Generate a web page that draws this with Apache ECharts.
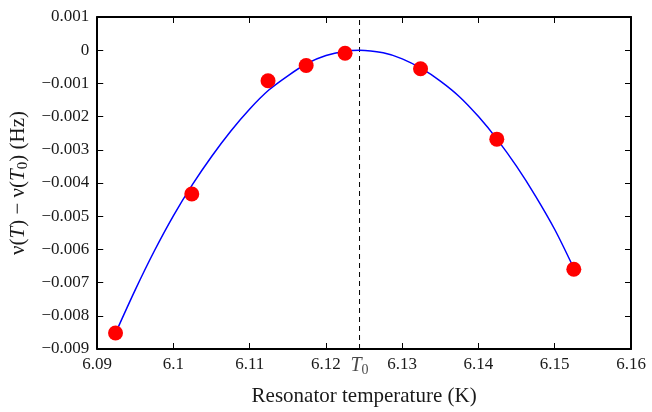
<!DOCTYPE html>
<html>
<head>
<meta charset="utf-8">
<script src="https://cdn.jsdelivr.net/npm/echarts@6/dist/echarts.min.js"></script>
<style>html,body{margin:0;padding:0;background:#fff}#c{width:652px;height:412px}</style>
</head>
<body>
<div id="c"></div>
<script>
// Measured data points: temperature (K) and frequency shift (Hz)
const pointT = [6.0924, 6.1024, 6.1124, 6.1174, 6.1225, 6.1324, 6.1424, 6.1525];
const pointDv = [-0.00852, -0.00433, -0.00092, -0.00046, -0.00009, -0.00056, -0.00268, -0.00660];
// Fitted curve
const curveT = [6.0924, 6.095, 6.0975, 6.10, 6.1025, 6.105, 6.1075, 6.11, 6.1125, 6.115, 6.1175, 6.12, 6.1225, 6.1244, 6.1275, 6.13, 6.1325, 6.135, 6.1375, 6.14, 6.1425, 6.145, 6.1475, 6.15, 6.1524];
const curveDv = [-0.00852, -0.00721, -0.00604, -0.00498, -0.00404, -0.00320, -0.00244, -0.00177, -0.00120, -0.00077, -0.00040, -0.00016, -0.00003, 0, -0.00008, -0.00026, -0.00055, -0.00093, -0.00140, -0.00200, -0.00270, -0.00350, -0.00440, -0.00540, -0.00652];
const T0 = 6.1244;
const xTicks = [6.09, 6.16, 0.01];
const yTicks = [-0.009, 0.001, 0.001];

const FONT = 'Liberation Serif';
const TXT = '#1a1a1a';
const fmtNum = v => { const r = parseFloat(v.toFixed(4)); return String(r).replace('-', '\u2212'); };

const chart = echarts.init(document.getElementById('c'), null, {renderer: 'canvas'});
const axisLine = {show: true, onZero: false, lineStyle: {color: '#000', width: 2}};
const tickStyle = {show: true, inside: true, length: 6, lineStyle: {color: '#000', width: 1}};
chart.setOption({
  animation: false,
  backgroundColor: '#fff',
  grid: {left: 96, top: 17, right: 21, bottom: 61, containLabel: false},
  xAxis: [{
    type: 'value', min: xTicks[0], max: xTicks[1], interval: xTicks[2],
    axisLine: axisLine, axisTick: tickStyle, splitLine: {show: false},
    axisLabel: {color: TXT, fontFamily: FONT, fontSize: 17, margin: 7, formatter: fmtNum},
    name: 'Resonator temperature (K)', nameLocation: 'middle', nameGap: 37,
    nameTextStyle: {color: TXT, fontFamily: FONT, fontSize: 21}
  }, {
    type: 'value', position: 'top', min: xTicks[0], max: xTicks[1], interval: xTicks[2],
    axisLine: axisLine, axisTick: tickStyle, splitLine: {show: false}, axisLabel: {show: false}
  }],
  yAxis: [{
    type: 'value', min: yTicks[0], max: yTicks[1], interval: yTicks[2],
    axisLine: axisLine, axisTick: tickStyle, splitLine: {show: false},
    axisLabel: {color: TXT, fontFamily: FONT, fontSize: 17, margin: 8, formatter: fmtNum},
    name: '{n|\u03bd(}{i|T}{n|) \u2212 \u03bd(}{i|T}{s|0}{n|) (Hz)}', nameLocation: 'middle', nameGap: 64,
    nameTextStyle: {color: TXT, fontFamily: FONT, fontSize: 21,
      rich: {
        n: {fontFamily: FONT, fontSize: 21, color: TXT},
        i: {fontFamily: FONT, fontSize: 21, fontStyle: 'italic', color: TXT},
        s: {fontFamily: FONT, fontSize: 15, color: TXT, padding: [9, 0, 0, 0]}
      }}
  }, {
    type: 'value', position: 'right', min: yTicks[0], max: yTicks[1], interval: yTicks[2],
    axisLine: axisLine, axisTick: tickStyle, splitLine: {show: false}, axisLabel: {show: false}
  }],
  series: [{
    type: 'line', data: curveT.map((t, i) => [t, curveDv[i]]), smooth: 0.3,
    showSymbol: false, symbol: 'none', lineStyle: {color: '#0000ff', width: 1.5}, z: 2
  }, {
    type: 'line', symbol: 'none', showSymbol: false, silent: true, z: 1,
    lineStyle: {color: '#000', type: [5, 4], width: 1},
    data: [[T0, yTicks[0]], [T0, yTicks[1]]]
  }, {
    type: 'scatter', silent: true, clip: false, symbolSize: 0, z: 1,
    data: [[T0, yTicks[0]]],
    label: {show: true, position: 'bottom', distance: 5, formatter: '{i|T}{s|0}',
      rich: {
        i: {fontFamily: FONT, fontSize: 20, fontStyle: 'italic', color: TXT},
        s: {fontFamily: FONT, fontSize: 14, color: TXT, padding: [9, 0, 0, 0]}
      }}
  }, {
    type: 'scatter', data: pointT.map((t, i) => [t, pointDv[i]]), symbol: 'circle', symbolSize: 15,
    itemStyle: {color: '#ff0000', opacity: 1}, z: 5
  }]
});
</script>
</body>
</html>
